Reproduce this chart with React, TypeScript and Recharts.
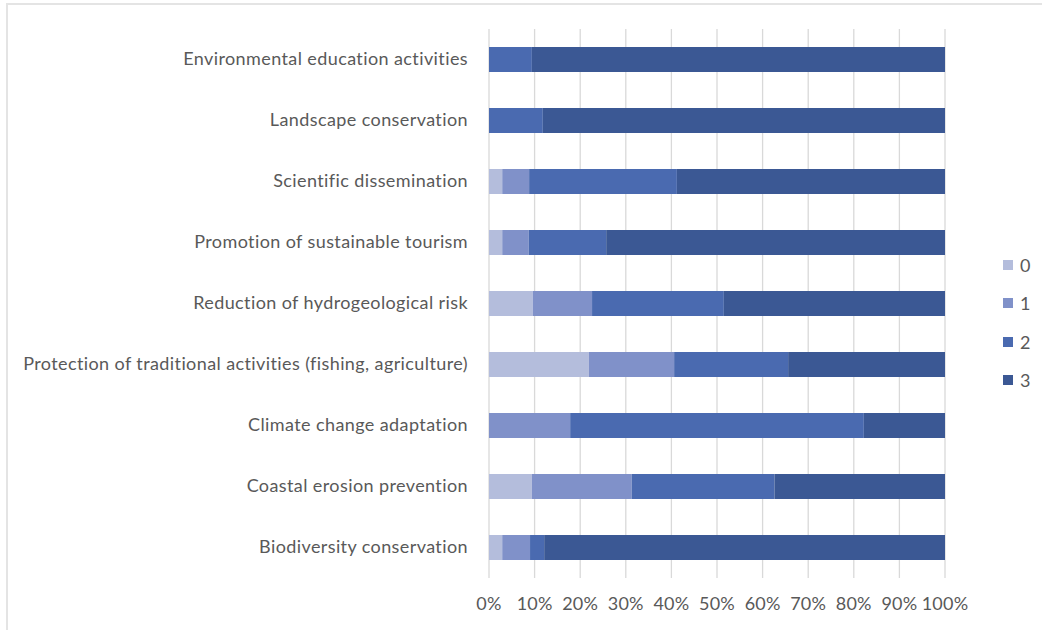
import React from 'react';
import { BarChart, Bar, XAxis, YAxis, CartesianGrid, Legend } from 'recharts';

// 設問カテゴリ（上から順）
const categories = [
  'Environmental education activities',
  'Landscape conservation',
  'Scientific dissemination',
  'Promotion of sustainable tourism',
  'Reduction of hydrogeological risk',
  'Protection of traditional activities (fishing, agriculture)',
  'Climate change adaptation',
  'Coastal erosion prevention',
  'Biodiversity conservation',
];

// 各スコアの割合 (%)
const score0 = [0, 0, 2.9, 2.9, 9.6, 21.9, 0, 9.4, 2.9];
const score1 = [0, 0, 5.9, 5.8, 13.0, 18.7, 17.8, 21.9, 6.1];
const score2 = [9.4, 11.8, 32.4, 17.0, 28.9, 25.0, 64.4, 31.3, 3.1];
const score3 = [90.6, 88.2, 58.8, 74.3, 48.5, 34.4, 17.8, 37.4, 87.9];

const xTicks = [0, 10, 20, 30, 40, 50, 60, 70, 80, 90, 100];

const seriesNames = ['0', '1', '2', '3'];
const seriesColors = ['#b4bddc', '#8091c9', '#4a6ab0', '#3b5894'];

const FONT = 'Lato, "Open Sans", sans-serif';
const TEXT = '#595959';

const chartData = categories.map((name, i) => ({
  name,
  s0: score0[i],
  s1: score1[i],
  s2: score2[i],
  s3: score3[i],
}));

const LegendBox = () => (
  <div style={{ position: 'absolute', left: 1003, top: 246 }}>
    {seriesNames.map((n, i) => (
      <div
        key={n}
        style={{ display: 'flex', alignItems: 'center', height: 38.3, fontFamily: FONT, fontSize: 18, color: TEXT }}
      >
        <span style={{ width: 10, height: 10, background: seriesColors[i], marginRight: 7 }} />
        <span style={{ lineHeight: '20px' }}>{n}</span>
      </div>
    ))}
  </div>
);

export default function App() {
  return (
    <div style={{ position: 'absolute', left: 0, top: 0, width: 1042, height: 630, background: '#fff', overflow: 'hidden' }}>
      {/* 外枠 */}
      <div
        style={{
          position: 'absolute',
          left: 6,
          top: 3,
          width: 1060,
          height: 660,
          border: '2px solid #e4e4e4',
          boxSizing: 'border-box',
        }}
      />
      <BarChart
        width={1042}
        height={630}
        data={chartData}
        layout="vertical"
        barSize={25}
        margin={{ top: 29, right: 97, left: 0, bottom: 12 }}
        style={{ position: 'absolute', left: 0, top: 0 }}
      >
        <CartesianGrid horizontal={false} stroke="#d9d9d9" strokeWidth={1.3} />
        <XAxis
          type="number"
          domain={[0, 100]}
          ticks={xTicks}
          interval={0}
          tickFormatter={(v) => `${v}%`}
          axisLine={false}
          tickLine={false}
          tickSize={0}
          tickMargin={19}
          height={40}
          tick={{ fontSize: 18, fill: TEXT, fontFamily: FONT, letterSpacing: 0.2 }}
        />
        <YAxis
          type="category"
          dataKey="name"
          width={489}
          axisLine={false}
          tickLine={false}
          tickSize={0}
          tickMargin={21}
          interval={0}
          tick={{ fontSize: 18, fill: TEXT, fontFamily: FONT, letterSpacing: 0.4, dy: -1 }}
        />
        <Legend content={() => <LegendBox />} wrapperStyle={{ position: 'absolute', left: 0, top: 0 }} />
        <Bar dataKey="s0" stackId="a" fill={seriesColors[0]} name="0" isAnimationActive={false} />
        <Bar dataKey="s1" stackId="a" fill={seriesColors[1]} name="1" isAnimationActive={false} />
        <Bar dataKey="s2" stackId="a" fill={seriesColors[2]} name="2" isAnimationActive={false} />
        <Bar dataKey="s3" stackId="a" fill={seriesColors[3]} name="3" isAnimationActive={false} />
      </BarChart>
    </div>
  );
}
